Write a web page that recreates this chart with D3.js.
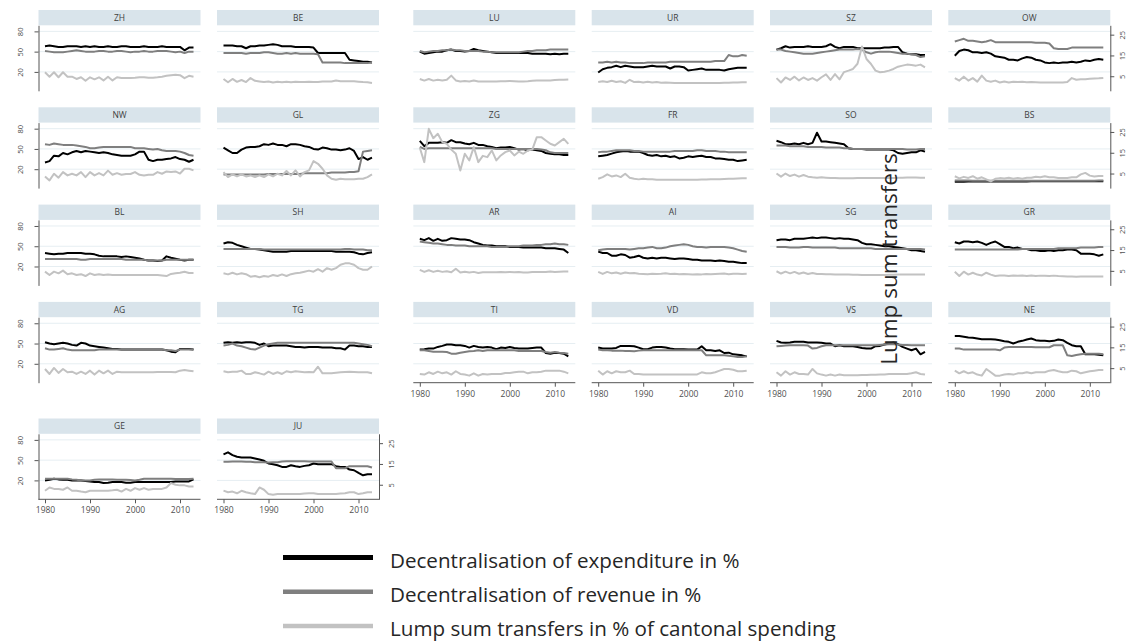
<!DOCTYPE html>
<html>
<head>
<meta charset="utf-8">
<script src="https://cdn.jsdelivr.net/npm/d3@7"></script>
<style>
  body { margin: 0; background: #fff; }
  svg { display: block; font-family: "Open Sans", sans-serif; }
</style>
</head>
<body>
<div id="chart"></div>
<script>
(function() {
  var width = 1131, height = 641;

  // cantons in the order they appear in the grid
  var cantons = ["ZH","BE","LU","UR","SZ","OW","NW","GL","ZG","FR","SO","BS","BL",
                 "SH","AR","AI","SG","GR","AG","TG","TI","VD","VS","NE","GE","JU"];
  var years = d3.range(1980, 2014);

  // Decentralisation of expenditure in % (left axis)
  var expenditure = [
    [58,59,58,57,57,58,58,58,57,58,57,58,57,57,58,57,57,58,58,57,57,57,58,57,57,57,58,57,57,57,57,52,56,56],
    [59,59,59,58,58,55,58,58,59,59,60,61,60,58,58,58,57,57,57,57,56,48,48,48,48,48,48,48,38,37,36,35,35,34],
    [50,47,48,49,50,50,52,53,51,51,50,51,54,52,51,50,49,48,48,48,48,48,48,48,48,47,47,47,47,46,47,46,47,47],
    [19,24,26,27,29,27,29,28,27,27,27,28,29,28,28,28,25,28,28,27,22,23,24,25,23,23,23,23,22,24,25,26,26,26],
    [53,55,58,56,57,57,57,58,57,57,57,58,61,57,55,57,57,57,55,55,55,55,55,55,56,56,57,57,49,47,46,46,45,45],
    [44,51,53,52,49,49,48,49,47,43,42,41,38,38,37,40,42,41,38,37,34,33,34,33,34,34,35,34,35,37,36,38,39,38],
    [30,32,40,39,44,42,45,47,45,47,46,45,44,45,44,42,41,40,40,40,42,46,46,34,32,34,34,35,36,38,35,34,31,34],
    [52,48,44,44,49,52,53,53,54,57,56,58,56,56,54,57,57,56,54,53,50,49,52,51,49,49,48,49,51,47,35,38,34,37],
    [62,54,59,59,59,60,59,63,60,60,58,57,59,56,56,54,53,51,52,52,53,51,49,50,48,49,48,47,44,43,42,42,41,41],
    [39,40,41,43,45,46,47,46,46,46,44,41,40,41,39,40,38,39,36,37,39,38,39,40,38,38,36,36,35,34,34,32,33,34],
    [62,60,57,57,58,57,59,57,59,74,61,61,60,59,58,57,51,50,50,50,49,49,49,49,49,49,48,44,43,44,45,45,48,46],
    [1.5,1.5,1.5,1.6,1.6,1.6,1.7,1.7,1.7,1.8,1.8,1.8,1.8,1.9,1.9,1.9,1.9,2,2,2,2,2,2,2,2,2,2.1,2.1,2.1,2.1,2.1,2.2,2.2,2.2],
    [40,39,38,39,39,40,40,40,40,39,39,38,36,35,35,35,35,34,35,34,33,32,30,29,29,28,29,35,33,31.5,30,29,30,30],
    [54,56,55,52,50,48,46,46,45,44,43,42,42,42,42,43,43,43,43,43,43,43,43,43,43,42,42,42,42,41,39,38,40,41],
    [61,59,62,58,61,58,59,62,61,60,60,59,56,54,52,51,51,50,50,50,49,49,49,48,48,48,48,48,47,47,47,46,45,40],
    [42,40,40,36,36,38,37,33,34,36,33,32,33,32,33,33,32,31,32,32,31,30,30,29,29,29,28,29,28,27,27,26,25,25],
    [59,60,60,59,61,61,61,62,63,62,63,63,62,61,62,61,61,60,59,55,53,53,52,51,50,50,49,48,47,46,44,44,43,42],
    [56,54,57,57,56,57,55,52,55,57,53,49,49,47,48,46,46,44,44,43,43,44,43,44,44,45,45,44,39,39,39,38,36,38],
    [52,50,49,50,51,50,48,47,51,50,47,46,45,44,43,42,42,41,41,41,41,41,41,41,41,41,41,40,38,37,42,42,42,41],
    [51,52,51,52,51,52,52,51,48,50,46,47,47,47,47,46,45,45,44,45,45,45,44,44,44,43,43,41,47,47,46,46,45,45],
    [41,41.5,42.5,42.5,45,46.5,48.5,48.5,47.5,47.5,46.5,44,46.5,45,44,45,44,41.5,44,43.5,45,43.5,42.5,42.5,42.5,43.5,44,44,36,35,36.5,36,35,31],
    [44,42.5,42.5,42.5,43.5,46.5,46.5,46.5,46,44,41.5,41.5,44,45,45,44,42.5,41.5,41.5,41.5,41,41,41,46,40,40,39,40,36,36.5,34,33.5,32.5,31],
    [54,51.5,51,51.5,52.5,52.5,52.5,51.5,51.5,51.5,51,50,50,46,47.5,46,46,46,45,43.5,42.5,42.5,46,46.5,48.5,50,51.5,49,45,42.5,40,42.5,34,37.5],
    [61,61,60,59,58.5,57.5,56.5,56.5,56.5,56,55,53.5,52.5,50,52.5,54,56,57.5,55,54,54,53.5,54,56,55,51,47.5,46,46,34,34,34,33.5,32.5],
    [20,21,22.5,21.5,21,21,20,20,20,19,18.5,17.5,17.5,16,16.5,17.5,17.5,17.5,16.5,16.5,17.5,17.5,17.5,17.5,17.5,17.5,17.5,17.5,17.5,18.5,18.5,18.5,18.5,21.5],
    [58.5,61.5,57.5,55,54,54,54,52.5,51,49,45,44,42.5,40,40,42.5,41,40,41.5,42.5,45,44,44,44,44,41,40,40,36,35,31,27.5,29,29]
  ];

  // Decentralisation of revenue in % (left axis)
  var revenue = [
    [51,50,49,49,49,50,51,52,51,50,50,50,51,51,50,50,51,51,50,49,50,50,51,50,50,51,51,51,50,49,50,48,50,50],
    [48,48,48,48,48,47,48,48,48,49,49,48,47,47,48,47,48,47,47,47,47,46,34,34,34,34,34,33,33,33,33,33,33,34],
    [51,49,50,51,51,52,52,53,52,52,51,51,51,51,50,50,49,49,49,49,49,49,49,50,51,51,52,52,52,53,53,53,53,53],
    [34,34,35,34,35,34,34,33,33,33,33,34,34,34,34,34,35,35,35,35,35,35,35,35,35,35,36,36,36,45,43,43,45,44],
    [53,53,51,50,49,48,47,47,47,48,49,50,51,52,53,53,53,53,54,53,49,47,49,50,50,50,49,48,47,47,46,45,42,43],
    [65,67,69,66,66,65,64,65,67,64,64,64,64,64,64,64,64,64,63,63,63,62,55,54,54,54,56,56,56,56,56,56,56,56],
    [57,56,58,57,56,56,56,55,54,53,51,51,52,53,53,53,53,53,53,53,51,51,51,50,49,50,48,47,47,47,46,44,41,40],
    [12,12,12,12,12,12,12,12,12,12,13,13,13,13,13,13,13,13,14,14,14,14,14,14,15,15,15,15,16,16,17,46,47,48],
    [53,50,51,51,51,51,51,51,51,51,51,51,51,51,51,51,51,50,50,50,50,50,50,50,50,50,50,49,48,45,44,44,44,44],
    [45,46,46,47,48,48,48,48,47,47,46,46,46,46,46,46,46,47,47,47,47,47,48,48,47,47,47,46,46,45,45,45,45,45],
    [55,55,55,54,54,54,54,53,53,53,53,52,52,52,52,51,51,50,50,50,50,50,50,50,50,50,50,50,50,49,49,49,50,50],
    [3.2,3.2,3.1,3.1,3,3,3,3,2.9,2.9,2.9,2.9,2.9,2.8,2.8,2.8,2.8,2.8,2.8,2.8,2.8,2.8,2.8,2.8,2.9,2.9,2.9,2.9,3,3,3,3,3.1,3.1],
    [31,31,31,31,31,31,31,31,30,30,31,31,31,31,31,31,31,31,30,30,30,30,30,29,29,29,29,30,30,30,30,30,30,30],
    [46,46,46,46,46,46,46,46,46,45,45,45,45,45,45,45,45,45,45,45,45,45,45,45,45,45,45,46,46,45,45,45,44,44],
    [57,56,55,54,54,53,52,52,51,51,51,50,50,50,50,50,49,49,49,49,50,50,50,51,51,51,52,52,53,53,54,53,53,52],
    [44,45,46,46,46,46,46,45,46,47,47,48,49,47,47,48,50,51,52,53,52,50,49,49,48,49,49,49,49,48,47,45,43,42],
    [49,49,49,48,48,48,49,49,48,48,48,48,48,48,47,47,47,47,47,47,47,47,46,46,46,46,46,46,46,46,46,46,46,45],
    [45,45,45,45,45,45,45,45,45,45,45,45,45,45,45,46,46,46,46,46,46,46,46,47,47,47,47,47,48,48,48,48,49,49],
    [43,41,41,42,43,41,40,40,40,40,40,40,41,41,41,41,41,41,41,41,41,41,41,41,41,41,41,40,40,39,41,41,41,41],
    [47,48,50,47,46,44,42,41,44,47,49,50,51,51,51,51,51,51,51,51,51,51,51,51,51,51,51,51,51,51,50,49,48,46],
    [40,40,39,38,38,38,37.5,35,35,36.5,37.5,38.5,39,40,39,40,40,40,40,40,40,40,39,39,39,39,39,39,37.5,36.5,37.5,36.5,36,35],
    [41,40,40,39.5,39.5,39.5,39,39,38.5,39.5,40,40,40,40,40,40,40,40,40,40,40,40,40,40,32.5,32.5,32.5,32.5,32.5,32,31,30,30,31],
    [46,46.5,47,47.5,47.5,47.5,47.5,47,42.5,43.5,46,47.5,47.5,47.5,47.5,47.5,47.5,47.5,47.5,47.5,47.5,47.5,47.5,48,48.5,49,49,48.5,48,48,47.5,47.5,47.5,47.5],
    [42.5,42.5,41,41,41,41,41,41,41,41,40,44,45,45,45,45,45,45,44.5,44.5,44.5,44.5,47.5,47.5,47.5,32.5,31.5,33,34,35,35,35,35,34],
    [22.5,22.5,22.5,22.5,22.5,22.5,21.5,21,20,20,20,21,21.5,21.5,21.5,21.5,21,21,21,20.5,20,21,22.5,22.5,22.5,22.5,22.5,22.5,22.5,22,22,22,22,22.5],
    [47.5,47.5,48,48,48,47.5,47.5,47,47,47,46.5,47,47,48,48.5,48.5,48.5,48.5,48.5,48,48,48,48,48,48,38,38,38,41,41,41,41,41,39]
  ];

  // Lump sum transfers in % of cantonal spending (right axis)
  var lumpSum = [
    [6.9,4.8,6.9,4.5,6.9,4.8,4.8,3.7,4.5,2.8,4.5,3.5,4.5,3,4.8,3,4.5,4.2,4.2,4.2,4.3,4.5,4.5,4.3,4.3,4.5,4.8,5.2,5.5,5.7,5.5,4.1,5.2,4.8],
    [3.7,2.1,3.7,2.3,3.2,2.2,4.1,2.8,2.5,2.2,2.5,2,2.3,2.1,2.4,2.1,2.3,2.2,2.2,2.3,2.2,2.2,2.5,2.5,2.5,3,2.6,2.6,2.6,2.6,2.4,2.2,2.1,1.8],
    [3.7,2.9,3.7,2.9,3.3,3,3.3,5.3,3,2.5,2.7,2.5,3,2.5,2.5,2.5,2.5,2.5,2.6,2.6,2.7,2.6,2.5,2.5,2.6,2.8,2.9,3,3,3,3.2,3.3,3.3,3.4],
    [2.2,2.6,2.2,2.8,2.2,2.6,1.8,3.3,2.2,2.4,2,2.3,2,2.2,1.9,2,1.9,1.8,1.8,1.8,1.7,1.7,1.7,1.7,1.7,1.7,1.8,1.8,1.9,1.9,2,2,2.1,2.1],
    [4.1,2,4.4,3.2,4.8,3,4.4,3.2,4.1,2.9,4.5,5.9,3.2,6,3.5,7,7.7,8.5,11,19.3,13.3,10.9,7.7,6.9,7.2,7.7,8.5,9.6,10.1,10.6,10.4,10.1,10.6,9.3],
    [4.1,2.9,4.8,2.9,4.1,2.4,5.3,2.9,2.4,2.9,2,2.5,2,2.4,2.2,2.3,2.1,2.2,2.1,2,2,2,2,2,2,2.2,4.1,3.3,3.5,3.6,3.8,3.9,4,4.2],
    [3.6,1.7,4.9,3,5.7,4.1,4.9,4.1,5.7,3.3,5.7,4.1,5.2,4.1,6.4,4.4,5.2,4.4,4.8,4.8,5.7,4.4,4.1,4.4,4.4,5.7,4.9,6,5.7,6,5,7.3,7.3,6.5],
    [5.7,3.3,4.6,3.6,4.6,3.6,4.1,3.3,4.1,3.3,4.6,3.6,4.9,4.1,6.2,4.1,6.5,3.6,5.7,6.5,11,9.7,7.3,4.1,2.5,2,2.5,2.3,2.3,2.3,2.5,2.5,3.3,4.6],
    [17.4,10.5,26.5,22,24.1,20.1,19.3,16.5,14.5,6.5,14.5,11.3,17.7,10.5,13.5,12.9,16.1,11.3,13.7,15.3,16.1,13.7,15.5,14.5,16.1,16.5,22.5,22.5,20.9,19.3,18.5,20.1,21.7,19.3],
    [2.5,3.3,4.6,3.6,4.1,3.3,4.9,3,2.5,2.2,2.5,2.3,2.2,2,2,2,2,2,2,2,2,2,2,2.1,2.1,2.2,2.2,2.3,2.4,2.5,2.5,2.6,2.7,2.7],
    [5,3.5,5,3.8,4.5,3.5,4.3,3.5,3.2,3,3.2,3,2.8,2.8,2.7,2.7,2.7,2.7,2.8,2.8,2.8,2.8,2.8,2.9,2.9,2.9,2.9,3,3,3.1,3.1,3.1,3,3],
    [3.7,2.7,3.4,2.9,3.7,2.5,3.2,2.2,1.2,2.5,2.8,2.6,3,2.5,2.9,2.5,3,3,3.5,3.2,3.7,3.2,3.2,2.9,2.9,2.9,3.2,3.2,4.6,5.3,4,3.6,3.8,3.8],
    [4.6,3,4.6,3.8,5.1,3.4,3.8,3,3.4,2.5,3.8,3,3.4,3,3.2,3,3,3,3,3,3,3,3,3,3,3,2.8,2.5,3.5,3.8,4.1,4.6,4,4],
    [3.8,3.3,4.1,3.3,3.8,3.4,2.2,2.5,1.9,2.5,2.2,3,2.5,3.3,2.5,3.4,3.8,4.1,4.6,5.1,4.6,5.8,4.6,6.3,5.5,6.3,7.9,8.6,8.6,7.9,6.3,5.5,5.5,7.1],
    [5.5,4.5,5.3,4.5,5,4.5,4.8,4.3,6,4.2,4.6,4.2,4.5,4,4.3,4.3,4.3,4.3,4.5,4.3,4.5,4.3,4.4,4.2,4.2,4.4,4.4,4.5,4.4,4.7,4.5,4.6,4.7,4.7],
    [4.5,3.5,4.5,3.8,4.2,3.6,4.2,3.8,4,3.6,3.5,3.4,3.6,3.5,3.6,3.8,3.5,3.6,3.4,3.5,3.4,3.3,3.4,3.3,3.5,3.4,3.5,3.6,3.7,3.4,3.6,3.6,3.5,3.6],
    [4.8,3.7,4.6,3.8,4.5,3.6,4.2,3.5,4,3.5,3.5,3.4,3.4,3.3,3.3,3.2,3.2,3.1,3.1,3,3,3,3,3,3,3.1,3.1,3.2,3.2,3.2,3.3,3.3,3.2,3.2],
    [4.6,2.5,4.6,3.2,4.1,3.2,2.8,4.1,3.2,2.5,2.8,2.8,2.5,2.8,2.6,2.8,2.5,2.8,2.5,2.7,2.6,2.5,2.7,2.5,2.4,2.3,2.3,2.2,2.3,2.3,2.3,2.3,2.3,2.3],
    [4.6,2.2,5.1,2.7,4.6,3,3.3,2.2,3.3,2.2,3.8,1.9,3.8,2.5,3.8,2.2,3.3,3,3,3,3,3,3,3,3,3.1,3.1,3.2,3.2,3,3.8,4.1,3.8,3.5],
    [3.5,3,3.3,3.3,3.8,2.2,2.2,3,2.5,1.9,3.3,2.2,3,2.2,3.5,3,3.5,3.3,3,3.2,3,5.7,2.5,2.5,2.6,2.8,3,3.2,3.3,3.2,3,3,3,2.5],
    [2.2,1.9,3,2.2,3.3,2.5,3,1.9,3.5,2.2,1.9,1.4,2.5,1.4,2.2,1.9,2.2,2.2,2.2,2.7,2.7,3,3.3,3.3,2.5,3,3,3.3,3.8,3.8,3.8,3.8,3.3,2.5],
    [3.8,1.9,3.5,2.5,3.5,3,3,3.8,2.2,2.2,1.9,1.9,1.9,1.9,1.9,1.9,1.9,1.9,1.9,1.9,1.9,2,2,3,2.5,2.5,3,3.8,4.6,4.6,4.2,3.5,3.5,3.8],
    [3,1.4,3.5,1.9,3,2.2,2.2,1.9,4.6,2.5,1.9,1.4,1.9,1.4,1.9,1.6,1.6,1.6,1.6,1.7,1.7,1.8,1.8,1.9,2,2.2,2.2,2.2,2.2,2.2,2.5,3,2.2,1.9],
    [3.8,2.5,3.5,2.5,3,1.9,1.4,4.6,3,1.4,1.4,1.9,2.2,1.9,2.5,2.5,3,2.5,3,3,3,3.8,4.1,3.5,3,3,3.8,3.5,2.5,3,3.5,3.8,4.1,4.1],
    [2.1,3.7,3,3,2.6,3.7,2.1,2.1,1.7,1.4,2.1,2.1,2.1,2.1,2.1,2.3,2.6,1.7,3,2.1,3.4,2.6,3.4,2.6,3,3,3,3.7,5.8,5,4.7,4.7,4.2,4.2],
    [2.2,1.4,1.7,0.9,2.1,1.4,0.9,0.5,3.7,2.6,0.5,0.2,0.5,0.5,0.5,0.5,0.5,0.6,0.8,0.9,0.9,0.6,0.5,0.5,0.6,0.6,0.8,0.9,1.4,1.4,0.5,0.9,1.4,1.4]
  ];

  var leftTicks = [20, 50, 80];
  var rightTicks = [5, 15, 25];
  var xTicks = [1980, 1990, 2000, 2010];
  var legendLabels = ["Decentralisation of expenditure in %",
                      "Decentralisation of revenue in %",
                      "Lump sum transfers in % of cantonal spending"];
  var rightTitle = "Lump sum transfers";

  var colours = ["#000000", "#7f7f7f", "#c2c2c2"];

  // panel grid (two combined graphs: 2 columns on the left, 4 on the right)
  var colX = [38.5, 217, 413.3, 591.7, 770, 948.3];
  var rowY = [10, 107.3, 204.6, 301.9, 418.5];
  var panelW = 162, stripH = 15.3, plotH = 65.5;

  var svg = d3.select("#chart")
    .append("svg")
    .attr("width", width)
    .attr("height", height);

  var series = [expenditure, revenue, lumpSum];

  cantons.forEach(function(name, i) {
    var row = Math.floor(i / 6), col = i % 6;
    var x0 = colX[col], top = rowY[row], hb = top + stripH;

    var x = d3.scaleLinear().domain([1980, 2013]).range([x0 + 6.5, x0 + 155]);
    var yL = d3.scaleLinear().domain([-8, 89]).range([hb + plotH, hb]);
    var yR = d3.scaleLinear().domain([-2, 29.5]).range([hb + plotH, hb]);

    var g = svg.append("g").attr("class", "panel");

    // strip
    g.append("rect")
      .attr("x", x0).attr("y", top)
      .attr("width", panelW).attr("height", stripH)
      .attr("fill", "#d9e4eb");
    g.append("text")
      .attr("x", x0 + panelW / 2).attr("y", top + stripH / 2)
      .attr("dy", "0.35em")
      .attr("text-anchor", "middle")
      .attr("font-size", 8.5)
      .attr("fill", "#404040")
      .text(name);

    // grid
    g.selectAll(".grid")
      .data(leftTicks)
      .enter().append("line")
      .attr("x1", x0).attr("x2", x0 + panelW)
      .attr("y1", function(d) { return yL(d); })
      .attr("y2", function(d) { return yL(d); })
      .attr("stroke", "#e6eef2")
      .attr("stroke-width", 1);

    // lines
    series.forEach(function(s, k) {
      var y = k == 2 ? yR : yL;
      var line = d3.line()
        .x(function(d, j) { return x(years[j]); })
        .y(function(d) { return y(d); });
      g.append("path")
        .datum(s[i])
        .attr("d", line)
        .attr("fill", "none")
        .attr("stroke", colours[k])
        .attr("stroke-width", 2)
        .attr("stroke-linejoin", "round");
    });

    // left axis only on first column
    if (col == 0) {
      var ax = g.append("g")
        .attr("transform", "translate(" + x0 + ",0)")
        .call(d3.axisLeft(yL).tickValues(leftTicks).tickSize(4).tickSizeOuter(0));
      ax.selectAll("text")
        .attr("x", 0).attr("dy", 0)
        .attr("text-anchor", "middle")
        .attr("font-size", 7.5)
        .attr("transform", "translate(-15.5,0) rotate(-90)");
    }
    // right axis on last column (and JU)
    if (col == 5 || name == "JU") {
      var axr = g.append("g")
        .attr("transform", "translate(" + (x0 + panelW) + ",0)")
        .call(d3.axisRight(yR).tickValues(rightTicks).tickSize(4).tickSizeOuter(0));
      axr.selectAll("text")
        .attr("x", 0).attr("dy", 0)
        .attr("text-anchor", "middle")
        .attr("font-size", 7.5)
        .attr("transform", "translate(14.5,0) rotate(-90)");
    }
    // x axis on the bottom row of each graph
    if ((row == 3 && col >= 2) || row == 4) {
      var axb = g.append("g")
        .attr("transform", "translate(0," + (hb + plotH) + ")")
        .call(d3.axisBottom(x).tickValues(xTicks).tickFormat(d3.format("d")).tickSize(4).tickSizeOuter(0));
      axb.select(".domain").remove();
      axb.append("line")
        .attr("x1", x0).attr("x2", x0 + panelW)
        .attr("stroke", "#555");
      axb.selectAll("text").attr("y", 8).attr("font-size", 8.5);
    }
  });

  svg.selectAll(".tick line").attr("stroke", "#555");
  svg.selectAll(".domain").attr("stroke", "#555");
  svg.selectAll(".tick text")
    .attr("fill", "#505050")
    .style("font-family", "'Open Sans', sans-serif");

  // legend
  var legend = svg.append("g").attr("transform", "translate(283,557.5)");
  legendLabels.forEach(function(label, k) {
    var row = legend.append("g").attr("transform", "translate(0," + (k * 34.3) + ")");
    row.append("line")
      .attr("x1", 0).attr("x2", 90)
      .attr("stroke", colours[k])
      .attr("stroke-width", k == 0 ? 5 : 4.5);
    row.append("text")
      .attr("x", 107).attr("y", 3).attr("dy", "0.35em")
      .attr("font-size", 20.6)
      .attr("fill", "#262626")
      .text(label);
  });

  // right axis title, drawn where the combined graph put it
  svg.append("text")
    .attr("transform", "translate(897,259) rotate(-90)")
    .attr("text-anchor", "middle")
    .attr("font-size", 22.5)
    .attr("fill", "#262626")
    .text(rightTitle);
})();
</script>
</body>
</html>
